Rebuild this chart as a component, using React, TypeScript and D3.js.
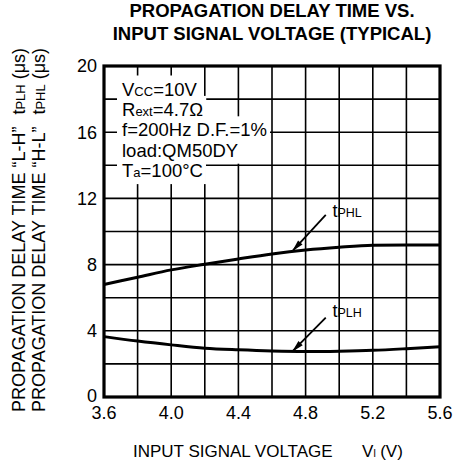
import { useEffect, useRef } from 'react';
import * as d3 from 'd3';

// values, V_I in volts, delay in microseconds
const VOLTAGE = [3.6, 3.8, 4.0, 4.2, 4.4, 4.6, 4.8, 5.0, 5.2, 5.4, 5.6];
const T_PHL = [6.8, 7.24, 7.68, 8.02, 8.34, 8.64, 8.88, 9.05, 9.17, 9.19, 9.19];
const T_PLH = [3.65, 3.38, 3.15, 2.95, 2.85, 2.78, 2.75, 2.77, 2.82, 2.92, 3.04];

const X_TICKS = [3.6, 4.0, 4.4, 4.8, 5.2, 5.6];
const Y_TICKS = [0, 4, 8, 12, 16, 20];
const X_GRID = [3.6, 3.8, 4.0, 4.2, 4.4, 4.6, 4.8, 5.0, 5.2, 5.4, 5.6];
const Y_GRID = [0, 2, 4, 6, 8, 10, 12, 14, 16, 18, 20];

// [text, isSmall]
const CONDITIONS: [string, boolean][][] = [
  [['V', false], ['CC', true], ['=10V', false]],
  [['R', false], ['ext', true], ['=4.7Ω', false]],
  [['f=200Hz D.F.=1%', false]],
  [['load:QM50DY', false]],
  [['T', false], ['a', true], ['=100°C', false]],
];

const ARROWS = [
  { name: 'PHL', tip: [4.72, 8.8], tail: [4.92, 11.0], label: [4.96, 10.88] },
  { name: 'PLH', tip: [4.72, 2.74], tail: [4.92, 4.8], label: [4.96, 4.83] },
];

const FONT = 'Liberation Sans, Arial, Helvetica, sans-serif';

export default function App() {
  const bgRef = useRef<SVGGElement>(null);
  const condRef = useRef<SVGGElement>(null);

  const W = 454;
  const H = 469;
  const plot = { left: 104, right: 440, top: 66, bottom: 397 };

  const x = d3.scaleLinear().domain([3.6, 5.6]).range([plot.left, plot.right]);
  const y = d3.scaleLinear().domain([0, 20]).range([plot.bottom, plot.top]);

  const line = d3.line<number>()
    .x((_, i) => x(VOLTAGE[i]))
    .y((d) => y(d))
    .curve(d3.curveMonotoneX);

  useEffect(() => {
    // white boxes behind the test-condition text so the grid is cut out
    const pad = 3;
    const boxes: DOMRect[] = [];
    d3.select(condRef.current).selectAll<SVGTextElement, unknown>('text').each(function () {
      boxes.push(this.getBBox());
    });
    d3.select(bgRef.current)
      .selectAll('rect')
      .data(boxes)
      .join('rect')
      .attr('x', (b) => b.x - pad - 2)
      .attr('y', (b) => b.y - pad)
      .attr('width', (b) => b.width + pad * 2 + 2)
      .attr('height', (b) => b.height + pad * 2)
      .attr('fill', 'white');
  }, []);

  const arrowHead = (a: typeof ARROWS[0]) => {
    const tx = x(a.tip[0]), ty = y(a.tip[1]);
    const sx = x(a.tail[0]), sy = y(a.tail[1]);
    const len = Math.hypot(sx - tx, sy - ty);
    const ux = (sx - tx) / len, uy = (sy - ty) / len;
    const hl = 12, hw = 3;
    const bx = tx + ux * hl, by = ty + uy * hl;
    return `M${tx},${ty}L${bx - uy * hw},${by + ux * hw}L${bx + uy * hw},${by - ux * hw}Z`;
  };

  return (
    <svg width={W} height={H} style={{ position: 'absolute', left: 0, top: 0, background: 'white' }}
      fontFamily={FONT}>
      {/* title */}
      <text x={272} y={17} textAnchor="middle" fontWeight="bold" fontSize={18.5}>PROPAGATION DELAY TIME VS.</text>
      <text x={272} y={40} textAnchor="middle" fontWeight="bold" fontSize={18.5}>INPUT SIGNAL VOLTAGE (TYPICAL)</text>

      {/* grid */}
      <g stroke="black" strokeWidth={1.6}>
        {X_GRID.map((v) => (
          <line key={'gx' + v} x1={x(v)} x2={x(v)} y1={plot.top} y2={plot.bottom} />
        ))}
        {Y_GRID.map((v) => (
          <line key={'gy' + v} x1={plot.left} x2={plot.right} y1={y(v)} y2={y(v)} />
        ))}
      </g>

      {/* conditions */}
      <g ref={bgRef} />
      <g ref={condRef} fontSize={18.5}>
        {CONDITIONS.map((parts, i) => (
          <text key={i} x={x(3.6) + 18} y={95.5 + i * 20.4}>
            {parts.map(([t, small], j) => (
              <tspan key={j} fontSize={small ? 13 : 18.5}>{t}</tspan>
            ))}
          </text>
        ))}
      </g>

      {/* curves */}
      <path d={line(T_PHL) ?? ''} fill="none" stroke="black" strokeWidth={3} />
      <path d={line(T_PLH) ?? ''} fill="none" stroke="black" strokeWidth={3} />

      {/* labels with arrows */}
      {ARROWS.map((a) => (
        <g key={a.name}>
          <line x1={x(a.tail[0])} y1={y(a.tail[1])} x2={x(a.tip[0])} y2={y(a.tip[1])} stroke="black" strokeWidth={1.8} />
          <path d={arrowHead(a)} fill="black" />
          <text x={x(a.label[0])} y={y(a.label[1])} fontSize={18}>
            t<tspan fontSize={12.5}>{a.name}</tspan>
          </text>
        </g>
      ))}

      {/* frame */}
      <rect x={plot.left} y={plot.top} width={plot.right - plot.left} height={plot.bottom - plot.top}
        fill="none" stroke="black" strokeWidth={3.2} />

      {/* tick labels */}
      <g fontSize={18}>
        {Y_TICKS.map((v) => (
          <text key={'yt' + v} x={plot.left - 7} y={y(v)} dy={v === 0 ? '0.3em' : '0.35em'} textAnchor="end">{v}</text>
        ))}
        {X_TICKS.map((v) => (
          <text key={'xt' + v} x={x(v)} y={plot.bottom + 22} textAnchor="middle">{v.toFixed(1)}</text>
        ))}
      </g>

      {/* axis titles */}
      <text x={133} y={457} fontSize={17}>
        INPUT SIGNAL VOLTAGE<tspan x={362}>V</tspan><tspan fontSize={10}>I</tspan><tspan dx={4}>(V)</tspan>
      </text>
      <g fontSize={18}>
        <text transform={`translate(25,412) rotate(-90)`}>
          PROPAGATION DELAY TIME “L-H”<tspan dx={12}>t</tspan><tspan fontSize={13}>PLH</tspan> (μs)
        </text>
        <text transform={`translate(45,412) rotate(-90)`}>
          PROPAGATION DELAY TIME “H-L”<tspan dx={12}>t</tspan><tspan fontSize={13}>PHL</tspan> (μs)
        </text>
      </g>
    </svg>
  );
}
